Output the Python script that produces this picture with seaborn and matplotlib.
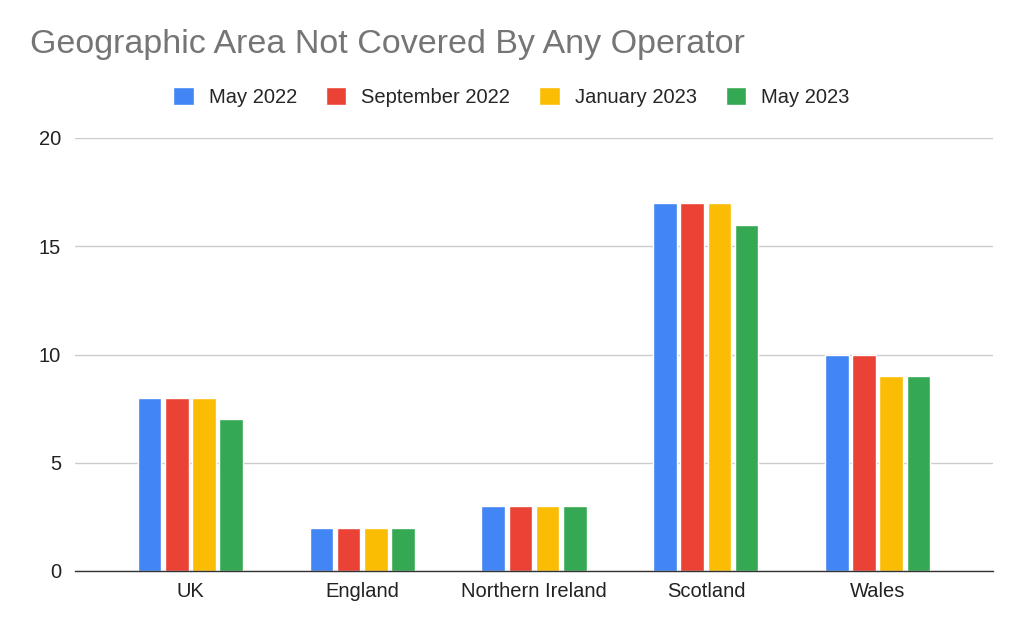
import matplotlib
matplotlib.use("Agg")
import matplotlib.pyplot as plt
import seaborn as sns
import pandas as pd

regions = ["UK", "England", "Northern Ireland", "Scotland", "Wales"]
periods = ["May 2022", "September 2022", "January 2023", "May 2023"]
may_2022 = [8, 2, 3, 17, 10]
sep_2022 = [8, 2, 3, 17, 10]
jan_2023 = [8, 2, 3, 17, 9]
may_2023 = [7, 2, 3, 16, 9]
colors = ["#4285F4", "#EA4335", "#FBBC04", "#34A853"]

rows = []
for p, vals in zip(periods, [may_2022, sep_2022, jan_2023, may_2023]):
    for r, v in zip(regions, vals):
        rows.append({"Region": r, "Period": p, "Value": v})
df = pd.DataFrame(rows)

sns.set_theme(style="white")
plt.rcParams['font.family'] = ['Arial', 'Liberation Sans', 'DejaVu Sans']

fig = plt.figure(figsize=(10.24, 6.33), dpi=100)
ax = fig.add_axes([75/1024, 1-571/633, 918/1024, 433/633])

sns.barplot(data=df, x="Region", y="Value", hue="Period", order=regions,
            hue_order=periods, palette=colors, width=0.63, gap=0.12,
            saturation=1, ax=ax, legend=True)

ax.set_ylim(0, 20)
ax.set_yticks([0, 5, 10, 15, 20])
ax.yaxis.grid(True, color="#cccccc", linewidth=1)
ax.set_axisbelow(True)
for s in ["top", "right", "left"]:
    ax.spines[s].set_visible(False)
ax.spines["bottom"].set_color("#333333")
ax.spines["bottom"].set_linewidth(1)
ax.set_xlabel("")
ax.set_ylabel("")
ax.tick_params(axis="both", labelsize=14.5, colors="#222222", length=0, pad=8)
ax.tick_params(axis="y", pad=10)
ax.set_xlim(-0.67, 4.67)

ax.legend(loc="upper center", bbox_to_anchor=(0.4755, 1.16), ncol=4, frameon=False,
          fontsize=14.5, handlelength=1.0, handleheight=1.0, columnspacing=1.45,
          handletextpad=0.75)

fig.text(30/1024, 1-45/633, "Geographic Area Not Covered By Any Operator",
         fontsize=24.5, color="#757575", va="center", ha="left")

fig.savefig("out.png", dpi=100)
